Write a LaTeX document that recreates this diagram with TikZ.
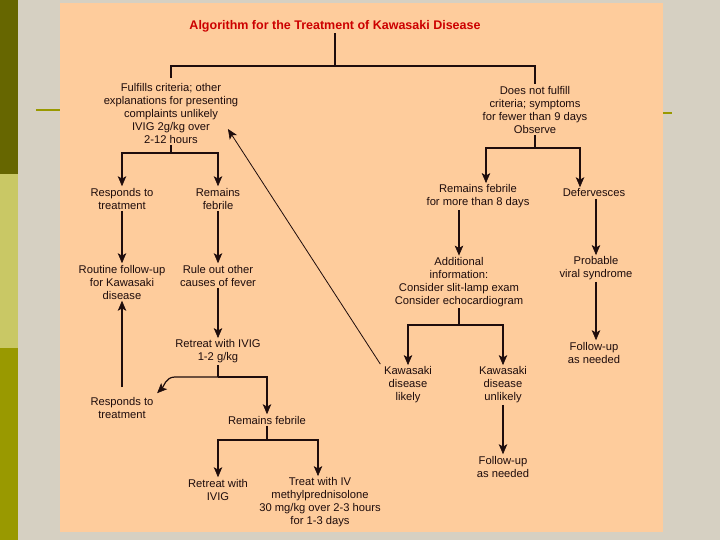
\documentclass[tikz,border=0pt]{standalone}
\usepackage{fontspec}
\setmainfont{Liberation Sans}
\usetikzlibrary{arrows.meta}
\definecolor{peach}{HTML}{FECC9C}
\definecolor{texture}{HTML}{D6D0C2}
\definecolor{oliveA}{HTML}{666600}
\definecolor{oliveB}{HTML}{C9C865}
\definecolor{oliveC}{HTML}{999900}
\definecolor{titlered}{HTML}{CC0000}
\definecolor{ink}{HTML}{1E0C0C}
\tikzset{
  txt/.style={align=center, inner sep=1.5pt, font=\fontsize{11.2}{13}\selectfont, text=ink},
  ln/.style={draw=ink, line width=1.2pt},
  thk/.style={draw=ink, line width=2pt},
  tip/.style={-{Stealth[length=10pt,width=8.5pt,inset=2.5pt,line width=0.6pt]}},
  arr/.style={ln, tip},
  arrthk/.style={thk, tip},
  arrthin/.style={draw=ink, line width=0.8pt, tip},
}
\begin{document}
\begin{tikzpicture}[x=1pt,y=-1pt]
\useasboundingbox (0,0) rectangle (720,540);
% slide background
\fill[texture] (0,0) rectangle (720,540);
\fill[oliveA] (0,0) rectangle (18,174);
\fill[oliveB] (0,174) rectangle (18,348);
\fill[oliveC] (0,348) rectangle (18,540);
\fill[peach] (60,3) rectangle (663,532);
\draw[oliveC, line width=1.5pt] (36,110) -- (60,110);
\draw[oliveC, line width=1.5pt] (663,113) -- (672,113);

% nodes
\node[font=\bfseries\fontsize{12.5}{13}\selectfont, text=titlered, inner sep=1pt] (title) at (335,26) {Algorithm for the Treatment of Kawasaki Disease};
\node[txt] (fulfill) at (171,113) {Fulfills criteria; other\\explanations for presenting\\complaints unlikely\\IVIG 2g/kg over\\2-12 hours};
\node[txt] (notful) at (535,109.5) {Does not fulfill\\criteria; symptoms\\for fewer than 9 days\\Observe};
\node[txt] (resp1) at (122,198.5) {Responds to\\treatment};
\node[txt] (feb1) at (218,198.5) {Remains\\febrile};
\node[txt] (routine) at (122,282) {Routine follow-up\\for Kawasaki\\disease};
\node[txt] (ruleout) at (218,275.5) {Rule out other\\causes of fever};
\node[txt] (retreat1) at (218,351.5) {Retreat with IVIG\\1-2 g/kg};
\node[txt] (resp2) at (122,407.5) {Responds to\\treatment};
\node[txt] (feb2) at (267,420) {Remains febrile};
\node[txt] (retreat2) at (218,489.5) {Retreat with\\IVIG};
\node[txt] (methyl) at (320,502.5) {Treat with IV\\methylprednisolone\\30 mg/kg over 2-3 hours\\for 1-3 days};
\node[txt] (feb8) at (478,196.5) {Remains febrile\\for more than 8 days};
\node[txt] (deferv) at (594,193) {Defervesces};
\node[txt] (addinfo) at (459,282) {Additional\\information:\\Consider slit-lamp exam\\Consider echocardiogram};
\node[txt] (viral) at (596,268.5) {Probable\\viral syndrome};
\node[txt] (follow1) at (594,352.5) {Follow-up\\as needed};
\node[txt] (kwlikely) at (408,385) {Kawasaki\\disease\\likely};
\node[txt] (kwunlikely) at (503,385) {Kawasaki\\disease\\unlikely};
\node[txt] (follow2) at (503,466.5) {Follow-up\\as needed};

% junctions
\coordinate (j0) at (335,66);
\coordinate (j1) at (171,153);
\coordinate (j2) at (218,377);
\coordinate (j3) at (267,440);
\coordinate (j4) at (535,148);
\coordinate (j5) at (459,325);
\coordinate (c2) at (175,377);

% connectors
\draw[ln] (title.south) -- (j0);
\draw[ln] (j0) -| ([yshift=3pt]fulfill.north);
\draw[ln] (j0) -| (notful.north);
\draw[ln] (fulfill.south) -- (j1);
\draw[arr] (j1) -| (resp1.north);
\draw[arr] (j1) -| (feb1.north);
\draw[arr] (resp1.south) -- (routine.north);
\draw[arrthk] (feb1.south) -- (ruleout.north);
\draw[arrthk] (ruleout.south) -- (retreat1.north);
\draw[ln] (retreat1.south) -- (j2);
\draw[arr] (j2) -| (feb2.north);
\draw[arr] (j2) -- (c2) to[out=180,in=45] ([xshift=2pt,yshift=2pt]resp2.north east);
\draw[arr] ([yshift=8pt]resp2.north) -- (routine.south);
\draw[ln] (feb2.south) -- (j3);
\draw[arr] (j3) -| (retreat2.north);
\draw[arr] (j3) -| ([xshift=-2pt]methyl.north);

\draw[ln] (notful.south) -- (j4);
\draw[arr] (j4) -| ([xshift=8pt]feb8.north);
\draw[arr] (j4) -| ([xshift=-14pt]deferv.north);
\draw[arr] (addinfo.north |- feb8.south) -- (addinfo.north);
\draw[arrthk] (viral.north |- deferv.south) -- (viral.north);
\draw[arrthk] (viral.south) -- (viral.south |- follow1.north);
\draw[ln] (addinfo.south) -- (j5);
\draw[arr] (j5) -| (kwlikely.north);
\draw[arr] (j5) -| (kwunlikely.north);
\draw[arr] (kwunlikely.south) -- (follow2.north);
\draw[arrthin] ([xshift=-2pt,yshift=1pt]kwlikely.north west) -- ([xshift=-12pt,yshift=-16pt]fulfill.east);
\end{tikzpicture}
\end{document}
